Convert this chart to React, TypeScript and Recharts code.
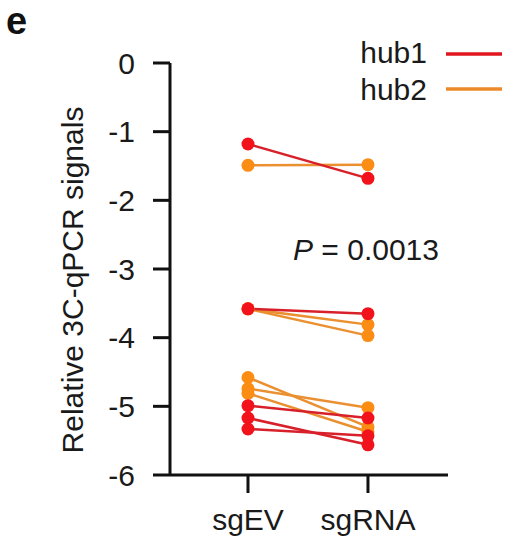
import React from "react";
import { LineChart, Line, XAxis, YAxis, Label } from "recharts";

// x categories and y ticks
const categories = ["sgEV", "sgRNA"];
const yTicks = [0, -1, -2, -3, -4, -5, -6];

// paired values (sgEV, sgRNA) per replicate
const hub1Pairs = [
  [-1.18, -1.68],
  [-3.58, -3.65],
  [-4.99, -5.17],
  [-5.17, -5.56],
  [-5.33, -5.43],
];
const hub2Pairs = [
  [-1.49, -1.48],
  [-3.58, -3.81],
  [-3.58, -3.97],
  [-4.58, -5.3],
  [-4.74, -5.02],
  [-4.81, -5.37],
];

const legendItems = [
  { name: "hub1", color: "#e0161e" },
  { name: "hub2", color: "#ec8a2a" },
];

const HUB1_LINE = "#d8202a";
const HUB1_DOT = "#f2121c";
const HUB2_LINE = "#eb9030";
const HUB2_DOT = "#fb8c14";

const FONT = '"Liberation Sans", Arial, sans-serif';
const TEXT = "#1a1a1a";

const toPoints = (pair: number[]) =>
  categories.map((_, i) => ({ x: i + 1, y: pair[i] }));

export default function App() {
  const tickStyle = { fontSize: 30, fontFamily: FONT, fill: TEXT };
  const axisStroke = { stroke: "#111", strokeWidth: 3 };

  return (
    <div style={{ position: "absolute", left: 0, top: 0, width: 523, height: 536 }}>
      <LineChart
        width={523}
        height={536}
        margin={{ top: 63, right: 75, bottom: 0, left: 0 }}
      >
        <XAxis
          dataKey="x"
          type="number"
          domain={[0.35, 2.667]}
          ticks={[1, 2]}
          interval={0}
          tickFormatter={(v: number) => categories[v - 1]}
          height={61}
          tickSize={18}
          tickMargin={16}
          axisLine={axisStroke}
          tickLine={axisStroke}
          tick={tickStyle}
          allowDataOverflow
        />
        <YAxis
          dataKey="y"
          type="number"
          domain={[-6, 0]}
          ticks={yTicks}
          width={170}
          tickSize={17}
          tickMargin={18}
          axisLine={axisStroke}
          tickLine={axisStroke}
          tick={tickStyle}
          interval={0}
        >
          <Label
            content={() => (
              <text
                x={72}
                y={280}
                transform="rotate(-90 72 280)"
                textAnchor="middle"
                dominantBaseline="central"
                fontSize={30}
                fontFamily={FONT}
                fill={TEXT}
              >
                Relative 3C-qPCR signals
              </text>
            )}
          />
        </YAxis>
        {hub2Pairs.map((pair, i) => (
          <Line
            key={`hub2-${i}`}
            data={toPoints(pair)}
            dataKey="y"
            stroke={HUB2_LINE}
            strokeWidth={2.5}
            dot={{ r: 6.5, fill: HUB2_DOT, stroke: HUB2_DOT, strokeWidth: 0 }}
            activeDot={false}
            legendType="none"
            isAnimationActive={false}
          />
        ))}
        {hub1Pairs.map((pair, i) => (
          <Line
            key={`hub1-${i}`}
            data={toPoints(pair)}
            dataKey="y"
            stroke={HUB1_LINE}
            strokeWidth={2.5}
            dot={{ r: 6.5, fill: HUB1_DOT, stroke: HUB1_DOT, strokeWidth: 0 }}
            activeDot={false}
            legendType="none"
            isAnimationActive={false}
          />
        ))}
      </LineChart>
      <svg
        width={523}
        height={536}
        style={{ position: "absolute", left: 0, top: 0, pointerEvents: "none" }}
      >
        <text x={6} y={34} fontSize={38} fontWeight="bold" fontFamily={FONT} fill="#111">
          e
        </text>
        <text x={293} y={260} fontSize={30} fontFamily={FONT} fill={TEXT}>
          <tspan fontStyle="italic">P</tspan> = 0.0013
        </text>
        {/* legend */}
        {legendItems.map((item, i) => (
          <g key={item.name}>
            <text
              x={427}
              y={63 + i * 37}
              textAnchor="end"
              fontSize={30}
              fontFamily={FONT}
              fill={TEXT}
            >
              {item.name}
            </text>
            <line
              x1={446}
              x2={502}
              y1={54 + i * 35}
              y2={54 + i * 35}
              stroke={item.color}
              strokeWidth={3.5}
            />
          </g>
        ))}
      </svg>
    </div>
  );
}
